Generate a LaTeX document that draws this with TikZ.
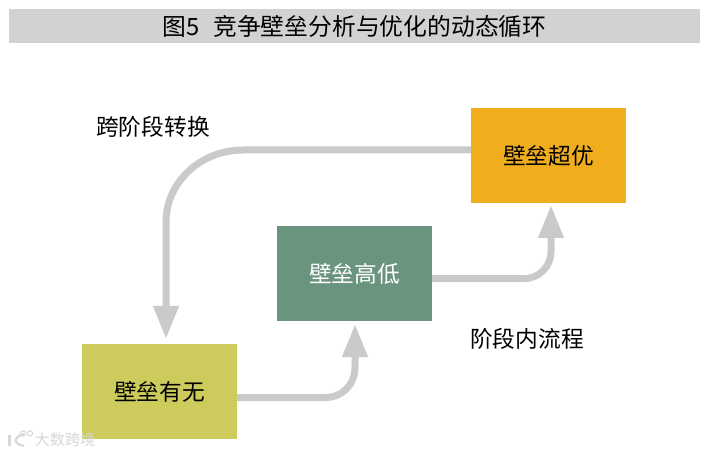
\documentclass[tikz,border=0pt]{standalone}
\usepackage{fontspec}
\setmainfont{Noto Sans CJK SC}
\usetikzlibrary{arrows.meta}
\definecolor{barGray}{HTML}{D2D2D2}
\definecolor{flowGray}{HTML}{C9CBC9}
\definecolor{boxGold}{HTML}{F0AE1E}
\definecolor{boxGreen}{HTML}{6B947E}
\definecolor{boxOlive}{HTML}{CDCB5C}
\definecolor{markGray}{HTML}{D5D9D9}
\tikzset{
  x=1pt,y=-1pt,
  stagebox/.style={draw=none,minimum width=155pt,minimum height=95pt,inner sep=0pt,font=\fontsize{22.7pt}{26pt}\selectfont,text=black},
  flow/.style={draw=flowGray,line width=7pt,-{Triangle[width=24pt,length=33pt]}},
  caption/.style={font=\fontsize{22.7pt}{26pt}\selectfont,text=black,inner sep=0pt},
}
\begin{document}
\begin{tikzpicture}
\useasboundingbox (0,0) rectangle (712,454);
\fill[white] (0,0) rectangle (712,454);
\node[fill=barGray,minimum width=691pt,minimum height=34pt,inner sep=0pt] (bar) at (354.5,26) {};
\node[inner sep=0pt,font=\fontsize{23.8pt}{28pt}\selectfont,text=black] (title) at (354.5,26) {图5\hspace{0.58em}竞争壁垒分析与优化的动态循环};
\node[stagebox,fill=boxGold] (top) at (548.5,155.5) {壁垒超优};
\node[stagebox,fill=boxGreen,text=white] (mid) at (354.5,273.5) {壁垒高低};
\node[stagebox,fill=boxOlive] (low) at (159.5,391.5) {壁垒有无};
\node[caption] (cross) at (153,127) {跨阶段转换};
\node[caption] (inner) at (527,339) {阶段内流程};
\coordinate (lowIn) at (166,339);
\coordinate (midIn) at (355,324);
\coordinate (topIn) at (551,205);
\draw[flow] (top.west |- 0,150) -- (243,150) .. controls (201,150) and (166,182) .. (166,222) -- (lowIn);
\draw[flow] (low.east |- 0,397.5) -- (325,397.5) .. controls (342,397.5) and (355,385) .. (355,367) -- (midIn);
\draw[flow] (mid.east |- 0,278.7) -- (523,278.7) .. controls (539,278.7) and (551,267) .. (551,251) -- (topIn);
\node[inner sep=0pt,font=\fontsize{15.2pt}{18pt}\selectfont,text=markGray] (mark) at (65,440) {大数跨境};
\draw[markGray,line width=2.2pt] (9.5,435) -- (9.5,446);
\draw[markGray,line width=2.2pt] (24,434) .. controls (13,437) and (13,444) .. (24,446);
\draw[markGray,line width=1pt] (23,433.5) circle (2.6);
\draw[markGray,line width=1pt] (30,433.5) circle (2.6);
\end{tikzpicture}
\end{document}
